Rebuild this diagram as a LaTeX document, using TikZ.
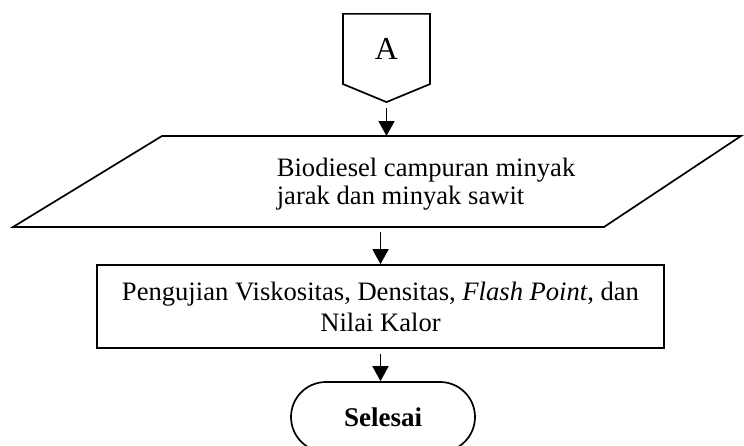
\documentclass[tikz,border=0pt]{standalone}
\usepackage{fontspec}
\setmainfont{Liberation Serif}
\usetikzlibrary{shapes.geometric, shapes.symbols, arrows.meta, positioning}

\begin{document}
\begin{tikzpicture}[
        x=0.5pt, y=-0.5pt,
        line width=0.85pt,
        connector/.style={draw, signal, signal to=south, signal pointer angle=135, minimum width=43.5pt, minimum height=37.5pt, inner sep=0pt, font=\fontsize{16}{18}\selectfont},
        process/.style={draw, rectangle, align=center, minimum width=283.5pt, minimum height=41.5pt, font=\fontsize{13.3}{15.5}\selectfont},
        terminal/.style={draw, rectangle, rounded corners=17.5pt, minimum width=92pt, minimum height=35pt, font=\bfseries\fontsize{13.5}{15}\selectfont},
        arrow/.style={-{Triangle[length=7.5pt, width=8pt]}, shorten <=2.5pt}
    ]
        \useasboundingbox (0,0) rectangle (744,445);

        % off-page connector
        \node[connector, anchor=north] (conA) at (386.5,13) {A};

        % input/output parallelogram
        \coordinate (inbl) at (13,227);
        \coordinate (intl) at (162,136);
        \coordinate (intr) at (741,136);
        \coordinate (inbr) at (604,227);
        \draw (inbl) -- (intl) -- (intr) -- (inbr) -- cycle;
        \node[align=left, anchor=west, inner sep=0pt, font=\fontsize{13.3}{14.2}\selectfont] (inputtext) at (276,184) {Biodiesel campuran minyak\\jarak dan minyak sawit};

        \node[process] (test) at (380.5,306.5) {Pengujian Viskositas, Densitas, \textit{Flash Point}, dan\\Nilai Kalor};
        \node[terminal] (finish) at (383,417) {Selesai};

        \draw[arrow] (conA.south) -- (conA.south |- intl);
        \draw[arrow] (inbl -| test.north) -- (test.north);
        \draw[arrow] (test.south) -- (test.south |- finish.north);
    \end{tikzpicture}
\end{document}
